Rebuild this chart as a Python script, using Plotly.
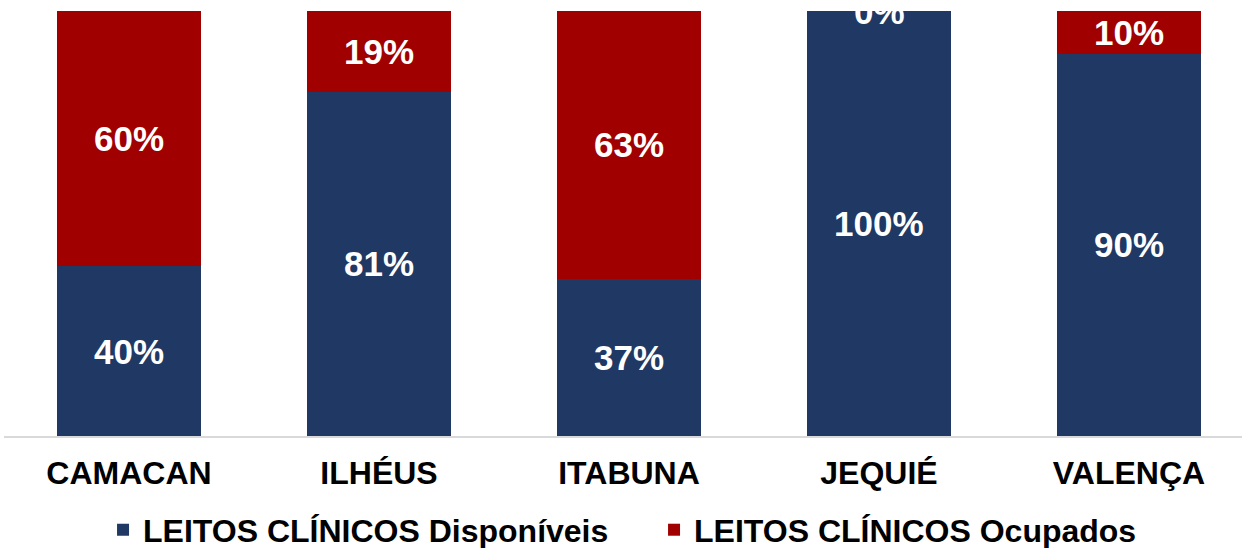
import plotly.graph_objects as go

categories = ["CAMACAN", "ILHÉUS", "ITABUNA", "JEQUIÉ", "VALENÇA"]
disponiveis = [40, 81, 37, 100, 90]
ocupados = [60, 19, 63, 0, 10]
series_names = ["LEITOS CLÍNICOS Disponíveis", "LEITOS CLÍNICOS Ocupados"]
colors = ["#1F3864", "#A00000"]

FONT = "Liberation Sans, Arial, sans-serif"

fig = go.Figure()
fig.add_trace(go.Bar(x=categories, y=disponiveis, name=series_names[0],
                     marker=dict(color=colors[0], line=dict(width=0)),
                     width=0.576, textposition="none"))
fig.add_trace(go.Bar(x=categories, y=ocupados, name=series_names[1],
                     marker=dict(color=colors[1], line=dict(width=0)),
                     width=0.576, textposition="none"))

# data labels
for i, c in enumerate(categories):
    d = disponiveis[i]
    o = ocupados[i]
    fig.add_annotation(x=c, y=d / 2, text=f"{d}%", showarrow=False,
                       font=dict(family=FONT, size=35, color="white", weight="bold"),
                       xref="x", yref="y")
    fig.add_annotation(x=c, y=d + o / 2, text=f"{o}%", showarrow=False,
                       font=dict(family=FONT, size=35, color="white", weight="bold"),
                       xref="x", yref="y")

fig.update_layout(
    barmode="stack",
    width=1242, height=548,
    margin=dict(l=4, r=0, t=11, b=112, autoexpand=False),
    paper_bgcolor="white", plot_bgcolor="white",
    showlegend=True,
    legend=dict(orientation="h", x=0.08, xanchor="left", y=-0.221, yanchor="middle",
                font=dict(family=FONT, size=32, color="black", weight="bold"),
                traceorder="normal", itemwidth=30,
                entrywidth=506, entrywidthmode="pixels"),
    bargap=0.424,
)
fig.update_xaxes(range=[-0.5, 4.452], showline=True, linecolor="#D9D9D9", linewidth=2,
                 showgrid=False, ticks="", ticklabelstandoff=8, automargin=False,
                 tickfont=dict(family=FONT, size=32, color="black", weight="bold"))
fig.update_yaxes(range=[0, 100], visible=False, showgrid=False, zeroline=False,
                 automargin=False)

fig.write_html("out.html", config={"displayModeBar": False},
               post_script="document.body.style.margin='0';")
